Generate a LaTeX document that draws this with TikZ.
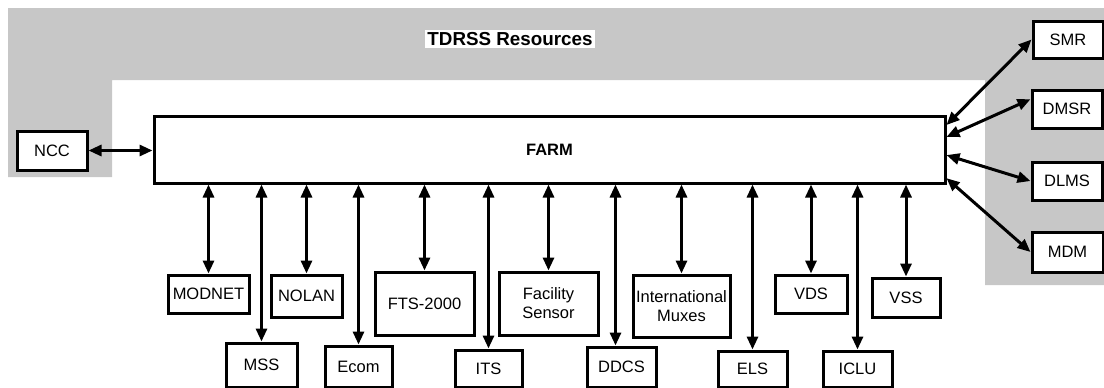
\documentclass[tikz,border=0pt]{standalone}
\usepackage{fontspec}
\setmainfont{Liberation Sans}
\usetikzlibrary{arrows.meta}
\usetikzlibrary{calc}

\tikzset{
  box/.style={draw, line width=3pt, fill=white, inner sep=0pt, align=center,
    font=\fontsize{16.5}{19}\selectfont},
  link/.style={{Triangle[length=13pt,width=11pt]}-{Triangle[length=13pt,width=11pt]}, line width=3pt}
}

\begin{document}
\begin{tikzpicture}[x=1pt, y=-1pt]
				\useasboundingbox (0,0) rectangle (1104,388);
				% shaded resources area
				\fill[black!22] (8,8) -- (1104,8) -- (1104,285) -- (985,285) -- (985,80) -- (112,80) -- (112,177) -- (8,177) -- cycle;
				\node[fill=white, inner sep=2pt, font=\bfseries\fontsize{18.8}{21}\selectfont] (title) at (510,39) {TDRSS Resources};
				% central box
				\node[box, minimum width=791pt, minimum height=67pt, font=\bfseries\fontsize{16.5}{19}\selectfont] (farm) at (549.5,149.5) {FARM};
				\node[box, minimum width=70pt, minimum height=39pt] (ncc) at (52,150.5) {NCC};
				% right side
				\node[box, minimum width=70pt, minimum height=37pt] (smr) at (1068,39.5) {SMR};
				\node[box, minimum width=70pt, minimum height=38pt] (dmsr) at (1067,109) {DMSR};
				\node[box, minimum width=70pt, minimum height=38pt] (dlms) at (1067,181) {DLMS};
				\node[box, minimum width=71pt, minimum height=40pt] (mdm) at (1067.5,252) {MDM};
				% upper row below
				\node[box, minimum width=81pt, minimum height=38pt] (modnet) at (208.5,294) {MODNET};
				\node[box, minimum width=71pt, minimum height=42pt] (nolan) at (306.5,296) {NOLAN};
				\node[box, minimum width=99pt, minimum height=63pt] (fts) at (424.5,303.5) {FTS-2000};
				\node[box, minimum width=99pt, minimum height=63pt] (facility) at (548.5,303.5) {Facility\\Sensor};
				\node[box, minimum width=97pt, minimum height=62pt] (muxes) at (681.5,306) {International\\Muxes};
				\node[box, minimum width=72pt, minimum height=38pt] (vds) at (811,294) {VDS};
				\node[box, minimum width=68pt, minimum height=39pt] (vss) at (906,297.5) {VSS};
				% lower row below
				\node[box, minimum width=71pt, minimum height=44pt] (mss) at (261.5,365) {MSS};
				\node[box, minimum width=67pt, minimum height=41pt] (ecom) at (358.5,366.5) {Ecom};
				\node[box, minimum width=67pt, minimum height=37pt] (its) at (488.5,368.5) {ITS};
				\node[box, minimum width=69pt, minimum height=40pt] (ddcs) at (621.5,367) {DDCS};
				\node[box, minimum width=69pt, minimum height=36pt] (els) at (752.5,369) {ELS};
				\node[box, minimum width=69pt, minimum height=36pt] (iclu) at (857.5,369) {ICLU};
				% links
				\draw[link] (ncc.east) -- (farm.west |- ncc.east);
				\draw[link] ($(farm.north east)!0.15!(farm.south east)$) -- (smr.west);
				\draw[link] ($(farm.north east)!0.32!(farm.south east)$) -- (dmsr.165);
				\draw[link] ($(farm.north east)!0.58!(farm.south east)$) -- (dlms.west);
				\draw[link] ($(farm.north east)!0.91!(farm.south east)$) -- (mdm.west);
				\draw[link] (modnet.north |- farm.south) -- (modnet.north);
				\draw[link] (mss.north |- farm.south) -- (mss.north);
				\draw[link] (nolan.north |- farm.south) -- (nolan.north);
				\draw[link] (ecom.north |- farm.south) -- (ecom.north);
				\draw[link] (fts.north |- farm.south) -- (fts.north);
				\draw[link] (its.north |- farm.south) -- (its.north);
				\draw[link] (facility.north |- farm.south) -- (facility.north);
				\draw[link] ([xshift=-6pt]ddcs.north |- farm.south) -- ([xshift=-6pt]ddcs.north);
				\draw[link] (muxes.north |- farm.south) -- (muxes.north);
				\draw[link] (els.north |- farm.south) -- (els.north);
				\draw[link] (vds.north |- farm.south) -- (vds.north);
				\draw[link] (iclu.north |- farm.south) -- (iclu.north);
				\draw[link] (vss.north |- farm.south) -- (vss.north);
			\end{tikzpicture}
\end{document}
